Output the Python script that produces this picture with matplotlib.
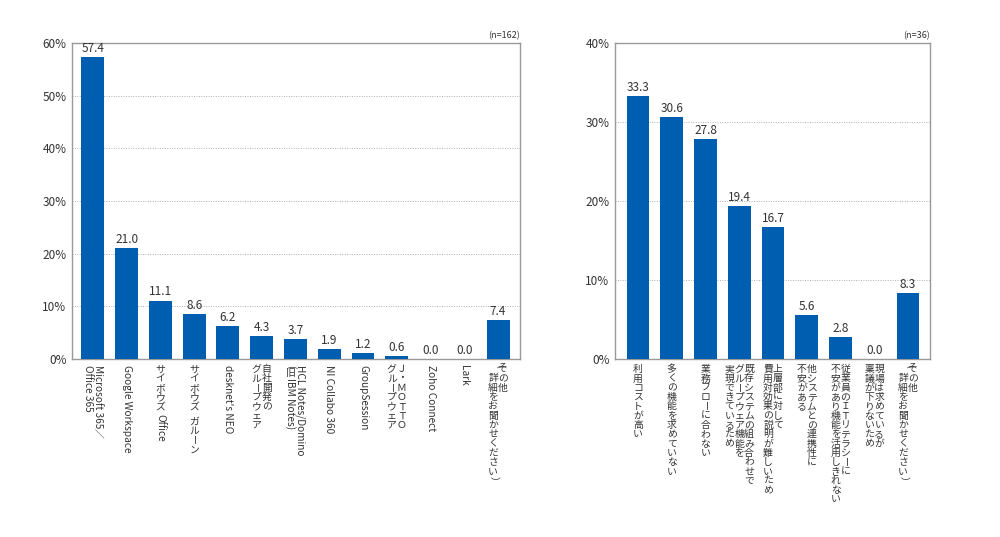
import matplotlib
matplotlib.use("Agg")
import matplotlib.pyplot as plt
from matplotlib.font_manager import FontProperties

plt.rcParams['font.family'] = ['Noto Sans CJK JP', 'DejaVu Sans']

# ---------------- data ----------------
left_labels = [
    ["Microsoft 365／", "Office 365"],
    ["Google Workspace"],
    ["サイボウズ Office"],
    ["サイボウズ ガルーン"],
    ["desknet's NEO"],
    ["自社開発の", "グループウェア"],
    ["HCL Notes/Domino", "(旧IBM Notes)"],
    ["NI Collabo 360"],
    ["GroupSession"],
    ["Ｊ・ＭＯＴＴＯ", "グループウェア"],
    ["Zoho Connect"],
    ["Lark"],
    ["その他", "（詳細をお聞かせください）"],
]
left_values = [57.4, 21.0, 11.1, 8.6, 6.2, 4.3, 3.7, 1.9, 1.2, 0.6, 0.0, 0.0, 7.4]
left_n = "(n=162)"
left_ticks = [0, 10, 20, 30, 40, 50, 60]

right_labels = [
    ["利用コストが高い"],
    ["多くの機能を求めていない"],
    ["業務フローに合わない"],
    ["既存システムの組み合わせで", "グループウェア機能を", "実現できているため"],
    ["上層部に対して", "費用対効果の説明が難しいため"],
    ["他システムとの連携性に", "不安がある"],
    ["従業員のＩＴリテラシーに", "不安があり機能を活用しきれない"],
    ["現場は求めているが", "稟議が下りないため"],
    ["その他", "（詳細をお聞かせください）"],
]
right_values = [33.3, 30.6, 27.8, 19.4, 16.7, 5.6, 2.8, 0.0, 8.3]
right_n = "(n=36)"
right_ticks = [0, 10, 20, 30, 40]

# ---------------- style ----------------
BAR = '#005EB0'
TXT = '#333333'
SPINE = '#999999'
DPI = 100
FS_CJK = 7.1      # glyph size
ADV_CJK = 6.7     # vertical advance per character (points)
FS_LAT = 7.3
FS_VAL = 8.5
FS_TICK = 8.5

fig = plt.figure(figsize=(10, 5.37), dpi=DPI)
renderer = fig.canvas.get_renderer()
fp_lat = FontProperties(family=['Noto Sans CJK JP', 'DejaVu Sans'], size=FS_LAT)

ROT_FULL = 'ー（）／〜―—「」『』'


def kind(ch):
    if ch in ROT_FULL:
        return 'rotfull'
    if ord(ch) >= 0x2E80:
        return 'up'
    return 'lat'


def text_len_pt(s):
    w, h, d = renderer.get_text_width_height_descent(s, fp_lat, ismath=False)
    return w * 72.0 / DPI


def put(ax, xpos, s, xoff, y, rot, size, va):
    ax.annotate(s, xy=(xpos, 0), xycoords=('data', 'axes fraction'),
                xytext=(xoff, y), textcoords='offset points',
                ha='center', va=va, rotation=rot, fontsize=size, color=TXT,
                annotation_clip=False)


def vertical_label(ax, xpos, lines, top_pad=4.0, lsp=7.1):
    n = len(lines)
    for j, line in enumerate(lines):
        xoff = ((n - 1) / 2.0 - j) * lsp
        segs = []
        for ch in line:
            k = kind(ch)
            if k == 'lat' and segs and segs[-1][0] == 'lat':
                segs[-1] = ('lat', segs[-1][1] + ch)
            else:
                segs.append((k, ch))
        y = -top_pad
        for k, s in segs:
            if k == 'up':
                put(ax, xpos, s, xoff, y - ADV_CJK / 2.0, 0, FS_CJK, 'center')
                y -= ADV_CJK
            elif k == 'rotfull':
                put(ax, xpos, s, xoff, y - ADV_CJK / 2.0, -90, FS_CJK, 'center')
                y -= ADV_CJK
            else:
                lead = len(s) - len(s.lstrip(' '))
                trail = len(s) - len(s.rstrip(' '))
                core = s.strip(' ')
                y -= lead * FS_LAT * 0.28
                if core:
                    put(ax, xpos, core, xoff, y, -90, FS_LAT, 'top')
                    y -= text_len_pt(core) + 0.5
                y -= trail * FS_LAT * 0.28


def draw(ax, labels, values, ticks, ntext, xlim, width):
    xs = list(range(len(values)))
    ax.bar(xs, values, width=width, color=BAR, zorder=3)
    for x, v in zip(xs, values):
        ax.annotate(f"{v:.1f}", xy=(x, v), xytext=(0, 1.5), textcoords='offset points',
                    ha='center', va='bottom', fontsize=FS_VAL, color=TXT)
    ax.set_xlim(*xlim)
    ax.set_ylim(ticks[0], ticks[-1])
    ax.set_yticks(ticks)
    ax.set_yticklabels([f"{t}%" for t in ticks])
    ax.tick_params(axis='y', length=0, pad=4, labelsize=FS_TICK, labelcolor=TXT)
    ax.set_xticks([])
    for sp in ax.spines.values():
        sp.set_color(SPINE)
        sp.set_linewidth(1.0)
    ax.yaxis.grid(True, linestyle=(0, (1, 1.5)), color='#b0b0b0', linewidth=0.7, zorder=0)
    ax.set_axisbelow(True)
    ax.text(1.0, 1.01, ntext, transform=ax.transAxes, ha='right', va='bottom',
            fontsize=6.5, color=TXT)
    for x, lines in zip(xs, labels):
        vertical_label(ax, x, lines)


ax1 = fig.add_axes([0.072, 0.3315, 0.448, 0.5885])
draw(ax1, left_labels, left_values, left_ticks, left_n, (-0.62, 12.65), 0.68)

ax2 = fig.add_axes([0.615, 0.3315, 0.315, 0.5885])
draw(ax2, right_labels, right_values, right_ticks, right_n, (-0.68, 8.65), 0.67)

fig.savefig("out.png", dpi=DPI)
